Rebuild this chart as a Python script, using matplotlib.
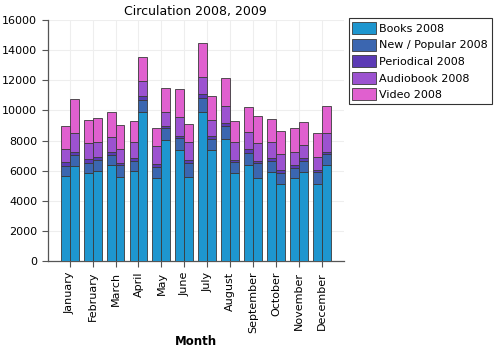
import numpy as np
import matplotlib
matplotlib.use("Agg")
import matplotlib.pyplot as plt

months = ["January", "February", "March", "April", "May", "June", "July",
          "August", "September", "October", "November", "December"]
series = ["Books", "New / Popular", "Periodical", "Audiobook", "Video"]
colors = ["#1e96cf", "#3b66b0", "#5b3ab5", "#9c52d0", "#e060cf"]

# 2008 values per month
books_2008 = [5650, 5870, 6360, 5960, 5540, 7350, 9870, 8080, 6380, 5930, 5500, 5100]
new_2008 = [680, 660, 700, 700, 730, 800, 930, 900, 815, 710, 700, 795]
periodical_2008 = [230, 225, 200, 160, 200, 170, 265, 160, 225, 180, 180, 150]
audio_2008 = [860, 1060, 990, 1060, 1150, 1260, 1165, 1170, 1165, 1100, 880, 880]
video_2008 = [1560, 1540, 1620, 1430, 1190, 1820, 2250, 1810, 1620, 1520, 1550, 1550]

# 2009 values per month
books_2009 = [6330, 5980, 5560, 9870, 8050, 5600, 7350, 5870, 5500, 5120, 5890, 6380]
new_2009 = [710, 710, 800, 810, 750, 930, 750, 690, 990, 750, 750, 730]
periodical_2009 = [220, 200, 170, 270, 170, 180, 180, 150, 150, 180, 180, 150]
audio_2009 = [1220, 1030, 890, 990, 890, 1210, 1080, 1210, 1170, 1040, 880, 1220]
video_2009 = [2270, 1590, 1590, 1590, 1590, 1150, 1610, 1370, 1810, 1520, 1500, 1810]

data_2008 = [books_2008, new_2008, periodical_2008, audio_2008, video_2008]
data_2009 = [books_2009, new_2009, periodical_2009, audio_2009, video_2009]

fig = plt.figure(figsize=(5, 3.5), dpi=100)
ax = fig.add_axes([0.095, 0.253, 0.593, 0.691])

x = np.arange(len(months))
w = 0.39

bottom = np.zeros(len(months))
for name, vals, c in zip(series, data_2008, colors):
    ax.bar(x - w / 2, vals, w, bottom=bottom, color=c, edgecolor="#3a3a3a",
           linewidth=0.6, label=f"{name} 2008", zorder=3)
    bottom += np.array(vals)

bottom = np.zeros(len(months))
for name, vals, c in zip(series, data_2009, colors):
    ax.bar(x + w / 2, vals, w, bottom=bottom, color=c, edgecolor="#3a3a3a",
           linewidth=0.6, zorder=3)
    bottom += np.array(vals)

ax.set_xlim(-0.97, 11.97)
ax.set_ylim(0, 16000)
ax.set_yticks(np.arange(0, 16001, 2000))
ax.set_xticks(x)
ax.set_xticklabels(months, rotation=90, fontsize=8)
ax.tick_params(axis="y", labelsize=8, length=4, color="#555555")
ax.tick_params(axis="x", length=4, color="#555555")
ax.grid(True, color="#eeeeee", linewidth=0.8, zorder=0)
ax.set_axisbelow(True)

for side in ["top", "right"]:
    ax.spines[side].set_visible(False)
for side in ["left", "bottom"]:
    ax.spines[side].set_color("#555555")
    ax.spines[side].set_linewidth(0.9)

ax.set_title("Circulation 2008, 2009", fontsize=9, pad=3)
ax.set_xlabel("Month", fontsize=8.5, fontweight="bold", labelpad=1)

leg = fig.legend(loc="upper left", bbox_to_anchor=(0.697, 0.948), fontsize=8,
                 frameon=True, fancybox=False, handlelength=2.1, handleheight=1.3,
                 handletextpad=0.3, labelspacing=0.4, borderpad=0.35,
                 borderaxespad=0)
leg.get_frame().set_edgecolor("black")
leg.get_frame().set_linewidth(0.8)

fig.savefig("out.png", dpi=100)
